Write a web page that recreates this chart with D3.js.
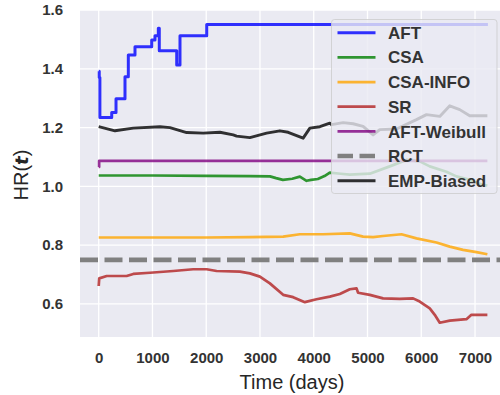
<!DOCTYPE html>
<html>
<head>
<meta charset="utf-8">
<script src="https://cdn.jsdelivr.net/npm/d3@7"></script>
<style>
  html, body { margin: 0; padding: 0; background: #fff; }
  svg { display: block; font-family: "Liberation Sans", Arial, sans-serif; }
</style>
</head>
<body>
<svg id="chart" width="500" height="395"></svg>
<script>
// ---------- data ----------
const seriesNames = ["AFT", "CSA", "CSA-INFO", "SR", "AFT-Weibull", "RCT", "EMP-Biased"];
const xTicks = [0, 1000, 2000, 3000, 4000, 5000, 6000, 7000];
const yTicks = [0.6, 0.8, 1.0, 1.2, 1.4, 1.6];

const aft = [[0,1.392],[10,1.37],[22,1.234],[242,1.251],[322,1.298],[489,1.373],[551,1.447],[675,1.475],[986,1.498],[1047,1.512],[1109,1.538],[1127,1.461],[1451,1.413],[1512,1.512],[2009,1.551],[7240,1.551]];
const csa = [[0,1.037],[1000,1.037],[2000,1.036],[2800,1.035],[3186,1.034],[3300,1.028],[3426,1.022],[3600,1.026],[3742,1.033],[3866,1.019],[3950,1.022],[4076,1.025],[4200,1.035],[4299,1.047],[4500,1.043],[4671,1.04],[5043,1.043],[5414,1.068],[5725,1.09],[5972,1.085],[6158,1.068],[6468,1.05],[6654,1.034],[6901,1.022],[7149,1.005],[7230,1.003]];
const csaInfo = [[0,0.826],[1000,0.826],[2000,0.826],[2814,0.827],[3431,0.829],[3742,0.837],[4175,0.837],[4671,0.840],[4918,0.829],[5104,0.827],[5290,0.831],[5632,0.837],[5911,0.823],[6283,0.809],[6530,0.795],[6777,0.784],[7026,0.776],[7230,0.769]];
const sr = [[0,0.661],[10,0.687],[149,0.695],[520,0.695],[643,0.702],[954,0.706],[1387,0.712],[1758,0.718],[2007,0.718],[2193,0.712],[2626,0.710],[2812,0.704],[2998,0.693],[3184,0.670],[3431,0.631],[3617,0.623],[3835,0.606],[4052,0.616],[4299,0.625],[4485,0.634],[4671,0.650],[4796,0.653],[4825,0.638],[5043,0.631],[5290,0.619],[5600,0.617],[5848,0.619],[5972,0.608],[6158,0.585],[6251,0.563],[6344,0.536],[6530,0.543],[6840,0.548],[6933,0.563],[7230,0.563]];
const aftWeibull = [[0,1.066],[8,1.087],[7230,1.087]];
const rctHR = 0.75;
const empBiased = [[0,1.203],[303,1.189],[643,1.198],[1139,1.203],[1325,1.2],[1636,1.183],[1944,1.181],[2255,1.184],[2502,1.175],[2565,1.171],[2812,1.166],[3123,1.181],[3370,1.189],[3524,1.184],[3803,1.164],[3928,1.198],[4114,1.203],[4299,1.215],[4331,1.21],[4547,1.217],[4733,1.213],[4918,1.204],[5104,1.175],[5229,1.193],[5539,1.195],[5911,1.227],[6097,1.244],[6344,1.238],[6530,1.274],[6716,1.261],[6901,1.24],[7230,1.24]];

// ---------- layout ----------
const svg = d3.select("#chart");
const plot = { left: 80, right: 502, top: 10, bottom: 337 };
const x = d3.scaleLinear().domain([-348, 7502]).range([plot.left, plot.right]);
const y = d3.scaleLinear().domain([0.4875, 1.6]).range([plot.bottom, plot.top]);

const styles = {
  "AFT":         { color: "#0000ff", width: 3,   dash: null, data: aft, curve: d3.curveStepAfter },
  "CSA":         { color: "#008000", width: 2.7, dash: null, data: csa, curve: d3.curveLinear },
  "CSA-INFO":    { color: "#ffa500", width: 2.7, dash: null, data: csaInfo, curve: d3.curveLinear },
  "SR":          { color: "#b22222", width: 2.7, dash: null, data: sr, curve: d3.curveLinear },
  "AFT-Weibull": { color: "#800080", width: 2.7, dash: null, data: aftWeibull, curve: d3.curveStepAfter },
  "RCT":         { color: "#808080", width: 4.6, dash: "18,6.5", data: null },
  "EMP-Biased":  { color: "#000000", width: 2.9, dash: null, data: empBiased, curve: d3.curveLinear }
};

svg.append("defs").append("clipPath").attr("id", "clip")
  .append("rect").attr("x", plot.left).attr("y", plot.top)
  .attr("width", plot.right - plot.left).attr("height", plot.bottom - plot.top);

// background
svg.append("rect").attr("x", plot.left).attr("y", plot.top)
  .attr("width", plot.right - plot.left).attr("height", plot.bottom - plot.top)
  .attr("fill", "#eaeaf2");

// grid
const grid = svg.append("g");
grid.selectAll(".vg").data(xTicks).enter().append("line")
  .attr("x1", d => x(d)).attr("x2", d => x(d))
  .attr("y1", plot.top).attr("y2", plot.bottom)
  .attr("stroke", "#fff").attr("stroke-width", 1.3);
grid.selectAll(".hg").data(yTicks).enter().append("line")
  .attr("x1", plot.left).attr("x2", plot.right)
  .attr("y1", d => y(d)).attr("y2", d => y(d))
  .attr("stroke", "#fff").attr("stroke-width", 1.3);

// axes (labels only, no spines/ticks)
const xAxis = d3.axisBottom(x).tickValues(xTicks).tickSize(0).tickPadding(15).tickFormat(d3.format("d"));
const gx = svg.append("g").attr("transform", `translate(0,${plot.bottom})`).call(xAxis);
gx.select(".domain").remove();
gx.selectAll("text").attr("font-size", 15).attr("font-weight", "bold").attr("fill", "#333")
  .attr("font-family", "Liberation Sans, Arial, sans-serif");

const yAxis = d3.axisLeft(y).tickValues(yTicks).tickSize(0).tickPadding(17).tickFormat(d3.format(".1f"));
const gy = svg.append("g").attr("transform", `translate(${plot.left},0)`).call(yAxis);
gy.select(".domain").remove();
gy.selectAll("text").attr("font-size", 15).attr("font-weight", "bold").attr("fill", "#333")
  .attr("font-family", "Liberation Sans, Arial, sans-serif");

// axis titles
svg.append("text").attr("x", 292).attr("y", 389).attr("text-anchor", "middle")
  .attr("font-size", 20).attr("fill", "#262626").text("Time (days)");
const yl = svg.append("text").attr("transform", "translate(28,175) rotate(-90)")
  .attr("text-anchor", "middle").attr("font-size", 20).attr("fill", "#262626");
yl.append("tspan").text("HR(");
yl.append("tspan").attr("font-weight", "bold").attr("font-style", "italic")
  .attr("font-family", "DejaVu Sans, sans-serif").attr("font-size", 18).text("t");
yl.append("tspan").text(")");

// lines
const lines = svg.append("g").attr("clip-path", "url(#clip)");
const drawOrder = ["AFT", "CSA", "CSA-INFO", "SR", "AFT-Weibull", "RCT", "EMP-Biased"];
drawOrder.forEach(name => {
  const s = styles[name];
  if (name === "RCT") {
    lines.append("line")
      .attr("x1", plot.left).attr("x2", plot.right)
      .attr("y1", y(rctHR)).attr("y2", y(rctHR))
      .attr("stroke", s.color).attr("stroke-width", s.width)
      .attr("stroke-dasharray", s.dash);
    return;
  }
  const gen = d3.line().x(d => x(d[0])).y(d => y(d[1])).curve(s.curve);
  lines.append("path").datum(s.data).attr("d", gen)
    .attr("fill", "none").attr("stroke", s.color).attr("stroke-opacity", 0.8)
    .attr("stroke-width", s.width).attr("stroke-linejoin", "round");
});

// legend
const lg = svg.append("g");
lg.append("rect").attr("x", 331.5).attr("y", 19.5).attr("width", 165.5).attr("height", 174)
  .attr("rx", 3).attr("fill", "#eaeaf2").attr("fill-opacity", 0.8)
  .attr("stroke", "#cccccc").attr("stroke-opacity", 0.8).attr("stroke-width", 1);
seriesNames.forEach((name, i) => {
  const s = styles[name];
  const cy = 32.7 + i * 24.67;
  lg.append("line").attr("x1", 337.5).attr("x2", 375.5).attr("y1", cy).attr("y2", cy)
    .attr("stroke", s.color).attr("stroke-opacity", name === "RCT" ? 1 : 0.8)
    .attr("stroke-width", name === "RCT" ? 4.6 : s.width)
    .attr("stroke-dasharray", name === "RCT" ? "15.5,6.5" : null);
  lg.append("text").attr("x", 388).attr("y", cy).attr("dy", "0.36em")
    .attr("font-size", 17).attr("font-weight", "bold").attr("fill", "#333").text(name);
});
</script>
</body>
</html>
